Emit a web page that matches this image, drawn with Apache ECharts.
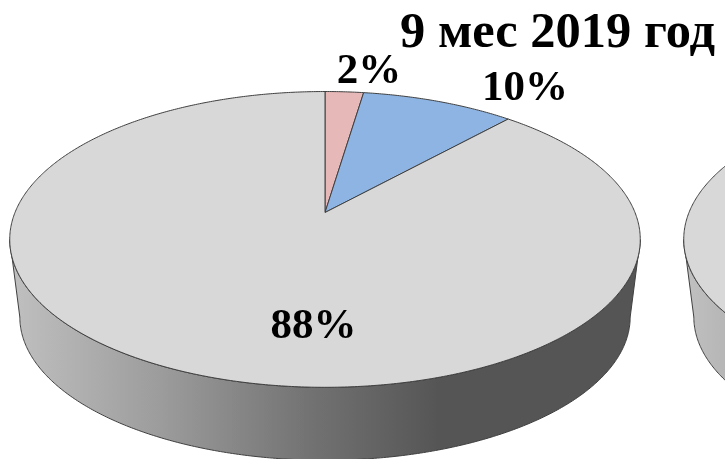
<!DOCTYPE html>
<html><head><meta charset="utf-8">
<style>html,body{margin:0;padding:0;background:#fff}#c{width:725px;height:459px}</style>
<script src="https://cdn.jsdelivr.net/npm/echarts@6/dist/echarts.min.js"></script>
</head><body><div id="c"></div>
<script>
const titleText = '9 мес 2019 год';
const categories = ['A', 'B', 'C'];
const values = [2, 10, 88];
const sliceValues = [2.35, 9.35, 88.3];  // unrounded shares
const colors = ['#e6b8b7', '#8db4e2', '#d8d8d8'];
const labelPos = [[369, 72], [525, 89], [313.5, 327]];
const secondValues = [100];
const secondColors = ['#d8d8d8'];

const chart = echarts.init(document.getElementById('c'), null, {renderer: 'canvas'});

// Perspective view of a disc
const persp = {k: 0.182, a: 310, b: 143, cy: 212.5};
function project(cx, u, v, s, cy) {
  const d = 1 + persp.k * v;
  return [cx + s * persp.a * u / d, cy - s * persp.b * v / d];
}
function rim(cx, fromDeg, toDeg, s, cy) {
  const pts = [], n = Math.max(2, Math.ceil(Math.abs(toDeg - fromDeg) * 2));
  for (let i = 0; i <= n; i++) {
    const t = (fromDeg + (toDeg - fromDeg) * i / n) * Math.PI / 180;
    pts.push(project(cx, Math.sin(t), Math.cos(t), s, cy));
  }
  return pts;
}
const lower = {s: 0.968, cy: 291};
const stroke = {stroke: '#404040', lineWidth: 1};
const silhouette = 90 + Math.asin(persp.k) * 180 / Math.PI;

function sideSeries(cx) {
  return {
    type: 'custom', coordinateSystem: 'none', silent: true, data: [1],
    renderItem() {
      const top = rim(cx, silhouette, 360 - silhouette, 1, persp.cy);
      const bot = rim(cx, 360 - silhouette, silhouette, lower.s, lower.cy);
      return {
        type: 'polygon',
        shape: {points: top.concat(bot)},
        style: {
          fill: new echarts.graphic.LinearGradient(cx - 315, 0, cx + 115, 0, [
            {offset: 0, color: '#c0c0c0'},
            {offset: 0.35, color: '#9c9c9c'},
            {offset: 0.7, color: '#727272'},
            {offset: 1, color: '#555555'}
          ], true),
          ...stroke
        }
      };
    }
  };
}
function topSeries(cx, vals, cols) {
  const total = vals.reduce((a, b) => a + b, 0);
  return {
    type: 'custom', coordinateSystem: 'none', silent: true, data: vals,
    renderItem(params, api) {
      const i = params.dataIndex;
      const start = vals.slice(0, i).reduce((a, b) => a + b, 0) / total * 360;
      const end = start + api.value(0) / total * 360;
      const arc = rim(cx, start, end, 1, persp.cy);
      return {
        type: 'polygon',
        shape: {points: [[cx, persp.cy]].concat(arc)},
        style: {fill: cols[i], ...stroke}
      };
    }
  };
}
function labelSeries() {
  return {
    type: 'custom', coordinateSystem: 'none', silent: true, data: values,
    renderItem(params, api) {
      const i = params.dataIndex;
      return {
        type: 'text', z2: 50,
        style: {
          x: labelPos[i][0], y: labelPos[i][1],
          text: api.value(0) + '%',
          fill: '#000', align: 'center', verticalAlign: 'middle',
          font: 'bold 43px "Liberation Serif"'
        }
      };
    }
  };
}
chart.setOption({
  animation: false,
  backgroundColor: '#fff',
  title: {
    text: titleText, left: 395, top: 3,
    textStyle: {fontFamily: 'Liberation Serif', fontWeight: 'bold', fontSize: 50.5, color: '#000'}
  },
  series: [
    sideSeries(325),
    topSeries(325, sliceValues, colors),
    sideSeries(999),
    topSeries(999, secondValues, secondColors),
    labelSeries()
  ]
});
</script></body></html>
